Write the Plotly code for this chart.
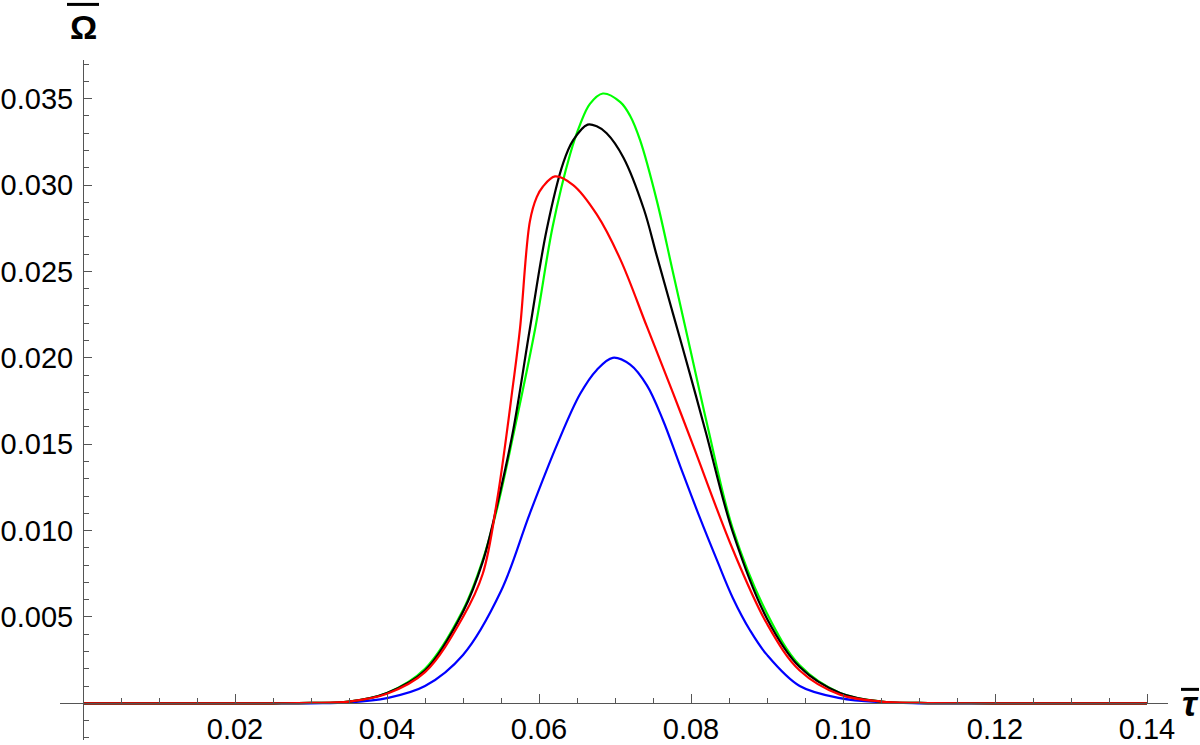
import plotly.graph_objects as go

# ---- data ----
green_x = [0.0, 0.025, 0.030, 0.035, 0.040, 0.045, 0.050, 0.0526, 0.0545, 0.0566, 0.0595, 0.0618, 0.0641,
           0.0654, 0.0667, 0.0684, 0.0707, 0.0720, 0.0733, 0.0755, 0.0776, 0.0799, 0.0822, 0.0855, 0.0900,
           0.0943, 0.0996, 0.105, 0.110, 0.120, 0.140]
green_y = [0.0, 0.0, 0.00002, 0.0001, 0.0006, 0.0020, 0.0054, 0.0083, 0.0113, 0.0155, 0.0217, 0.0276, 0.0318,
           0.0335, 0.0347, 0.0353, 0.0348, 0.0340, 0.0326, 0.0291, 0.0250, 0.0205, 0.0160, 0.0101, 0.0052,
           0.0022, 0.0006, 0.0001, 0.00002, 0.0, 0.0]

black_x = [0.0, 0.025, 0.030, 0.035, 0.040, 0.045, 0.050, 0.0526, 0.0545, 0.0566, 0.0588, 0.0610, 0.0632,
           0.0645, 0.0664, 0.0676, 0.0689, 0.0711, 0.0738, 0.0755, 0.0776, 0.0799, 0.0820, 0.0855, 0.0900,
           0.0943, 0.0996, 0.105, 0.110, 0.120, 0.140]
black_y = [0.0, 0.0, 0.00002, 0.0001, 0.0006, 0.0019, 0.0053, 0.0082, 0.0115, 0.0158, 0.0217, 0.0274, 0.0313,
           0.0326, 0.0335, 0.0334, 0.0330, 0.0316, 0.0286, 0.0259, 0.0226, 0.0190, 0.0156, 0.0099, 0.0049,
           0.0021, 0.0006, 0.0001, 0.00002, 0.0, 0.0]

red_x = [0.0, 0.025, 0.030, 0.035, 0.040, 0.045, 0.050, 0.0526, 0.0545, 0.0566, 0.0575, 0.0588, 0.0597,
         0.0605, 0.0621, 0.0645, 0.0676, 0.0707, 0.0742, 0.0776, 0.0803, 0.0855, 0.0900, 0.0943,
         0.0996, 0.105, 0.110, 0.120, 0.140]
red_y = [0.0, 0.0, 0.00002, 0.0001, 0.00055, 0.0018, 0.0050, 0.0075, 0.0118, 0.0185, 0.0217, 0.0279, 0.0293,
         0.0299, 0.0305, 0.0300, 0.0283, 0.0257, 0.0218, 0.0180, 0.0149, 0.0089, 0.0046, 0.0019,
         0.0005, 0.0001, 0.00002, 0.0, 0.0]

blue_x = [0.0, 0.030, 0.035, 0.040, 0.045, 0.050, 0.055, 0.0588, 0.0624, 0.0654, 0.0676, 0.0697, 0.0720,
          0.0742, 0.0763, 0.0786, 0.0812, 0.0834, 0.0855, 0.0878, 0.0900, 0.0943, 0.0996, 0.105, 0.110,
          0.120, 0.140]
blue_y = [0.0, 0.0, 0.00005, 0.0003, 0.0010, 0.0028, 0.0065, 0.0110, 0.0150, 0.0179, 0.0193, 0.0200, 0.0196,
          0.0184, 0.0164, 0.0137, 0.0107, 0.0083, 0.0061, 0.0042, 0.0028, 0.0010, 0.0003, 0.00006, 0.0,
          0.0, 0.0]

x_ticks = [0.02, 0.04, 0.06, 0.08, 0.10, 0.12, 0.14]
x_tick_text = ["0.02", "0.04", "0.06", "0.08", "0.10", "0.12", "0.14"]
y_ticks = [0.005, 0.010, 0.015, 0.020, 0.025, 0.030, 0.035]
y_tick_text = ["0.005", "0.010", "0.015", "0.020", "0.025", "0.030", "0.035"]

# ---- geometry ----
W, H = 1200, 745
ML, MR, MT, MB = 60, 32, 60, 0
x_range = [-0.003026, 0.14276]
y_range = [-0.002126, 0.037241]
x_axis_pos = (0 - y_range[0]) / (y_range[1] - y_range[0])
y_axis_pos = (0 - x_range[0]) / (x_range[1] - x_range[0])

def px_x(p):
    return (p - ML) / (W - ML - MR)

def px_y(p):
    return (H - MB - p) / (H - MT - MB)

fig = go.Figure()
for xs, ys, col in [(blue_x, blue_y, "#0000ff"), (green_x, green_y, "#00ff00"),
                    (black_x, black_y, "#000000"), (red_x, red_y, "#ff0000")]:
    fig.add_trace(go.Scatter(x=xs, y=ys, mode="lines",
                             line=dict(color=col, width=2.2, shape="spline", smoothing=1.0),
                             showlegend=False, hoverinfo="skip"))

axcol = "#555555"
font = dict(family="Liberation Sans, Arial, sans-serif", size=29, color="#000000")

fig.update_layout(
    width=W, height=H,
    margin=dict(l=ML, r=MR, t=MT, b=MB, pad=0),
    paper_bgcolor="white", plot_bgcolor="white",
    showlegend=False,
    xaxis=dict(range=x_range, anchor="free", position=x_axis_pos,
               showgrid=False, zeroline=False, showline=True, linecolor=axcol, linewidth=1,
               tickvals=x_ticks, ticktext=x_tick_text, ticks="inside", ticklen=9,
               tickcolor=axcol, tickwidth=1, tickfont=font,
               minor=dict(tick0=0, dtick=0.005, ticks="inside", ticklen=5, tickcolor=axcol, showgrid=False)),
    yaxis=dict(range=y_range, anchor="free", position=y_axis_pos,
               showgrid=False, zeroline=False, showline=True, linecolor=axcol, linewidth=1,
               tickvals=y_ticks, ticktext=y_tick_text, ticks="inside", ticklen=8,
               tickcolor=axcol, tickwidth=1, tickfont=font, ticklabelstandoff=4,
               minor=dict(tick0=0, dtick=0.001, ticks="inside", ticklen=5, tickcolor=axcol, showgrid=False)),
)

# axis labels with overlines
fig.add_annotation(text="<b>Ω</b>", xref="paper", yref="paper", x=px_x(83), y=px_y(27),
                   showarrow=False, xanchor="center", yanchor="middle",
                   font=dict(family="Liberation Sans, Arial, sans-serif", size=34, color="#000000"))
fig.add_shape(type="line", xref="paper", yref="paper", x0=px_x(67), x1=px_x(99), y0=px_y(4), y1=px_y(4),
              line=dict(color="#000000", width=3))
fig.add_annotation(text="<b><i>τ</i></b>", xref="paper", yref="paper", x=px_x(1190), y=px_y(708),
                   showarrow=False, xanchor="center", yanchor="middle",
                   font=dict(family="Liberation Sans, Arial, sans-serif", size=36, color="#000000"))
fig.add_shape(type="line", xref="paper", yref="paper", x0=px_x(1181), x1=px_x(1199), y0=px_y(694), y1=px_y(694),
              line=dict(color="#000000", width=3))

fig.write_html("out.html", config={"displayModeBar": False},
               post_script="document.body.style.margin='0px';document.body.style.overflow='hidden';")
